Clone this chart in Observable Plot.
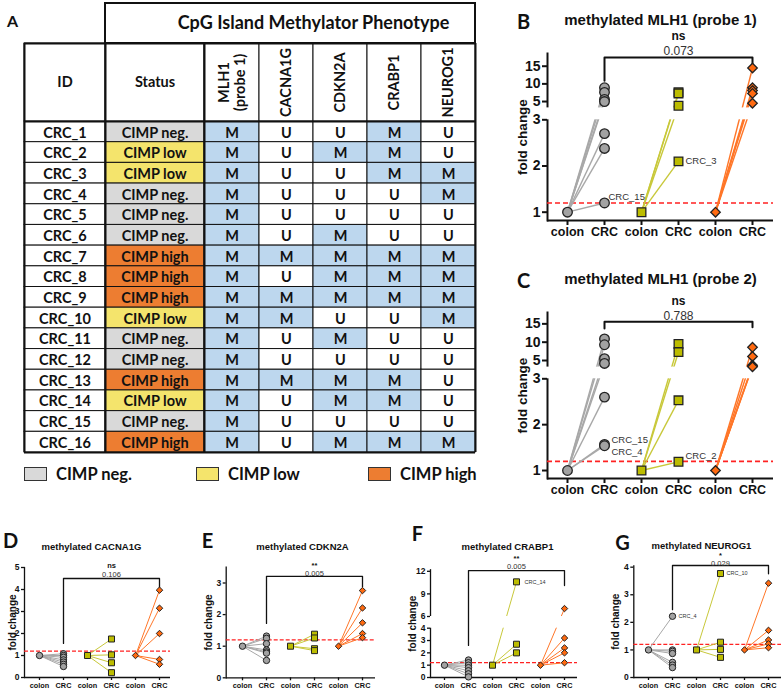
<!DOCTYPE html>
<html>
<head>
<meta charset="utf-8">
<script src="https://cdn.jsdelivr.net/npm/d3@7"></script>
<script src="https://cdn.jsdelivr.net/npm/@observablehq/plot@0.6"></script>
<style>
  body { margin: 0; background: #fff; }
  #root { position: relative; width: 783px; height: 691px; overflow: hidden; background: #fff; }
  #root > svg, #root > div { position: absolute; }
  .leg { display: flex; align-items: center; font-family: Lato, sans-serif; font-weight: bold; font-size: 16.5px; color: #111; }
  .leg span.box { display: inline-block; width: 21px; height: 12px; border: 1.5px solid #333; margin-right: 9px; }
</style>
</head>
<body>
<div id="root"></div>
<script>
// ---------------- DATA ----------------
// Table (panel A)
const ids = ["CRC_1","CRC_2","CRC_3","CRC_4","CRC_5","CRC_6","CRC_7","CRC_8","CRC_9","CRC_10","CRC_11","CRC_12","CRC_13","CRC_14","CRC_15","CRC_16"];
const status = ["CIMP neg.","CIMP low","CIMP low","CIMP neg.","CIMP neg.","CIMP neg.","CIMP high","CIMP high","CIMP high","CIMP low","CIMP neg.","CIMP neg.","CIMP high","CIMP low","CIMP neg.","CIMP high"];
const geneHeaders = ["MLH1\n(probe 1)","CACNA1G","CDKN2A","CRABP1","NEUROG1"];
const mlh1Calls    = ["M","M","M","M","M","M","M","M","M","M","M","M","M","M","M","M"];
const cacna1gCalls = ["U","U","U","U","U","U","M","U","M","M","U","U","M","U","U","U"];
const cdkn2aCalls  = ["U","M","U","U","U","M","M","M","M","U","M","U","M","M","U","M"];
const crabp1Calls  = ["M","M","M","U","U","U","M","M","M","U","U","U","M","M","U","M"];
const neurog1Calls = ["U","U","M","M","U","U","M","M","M","M","U","U","U","U","U","M"];
const tableTitle = "CpG Island Methylator Phenotype";

// Panels B-G: groups, tissues, CRC fold changes (colon reference = 1)
const groups = ["CIMP neg.","CIMP low","CIMP high"];
const tissues = ["colon","CRC"];
const colonRef = 1;
const cutoff = 1.2;

const mlh1p1Neg  = [8.9, 7.6, 5.6, 5.0, 2.7, 2.38, 1.2];
const mlh1p1Low  = [7.6, 7.3, 3.8, 2.1];
const mlh1p1High = [14.5, 8.9, 8.1, 7.3, 4.5];

const mlh1p2Neg  = [10.9, 9.3, 5.5, 4.2, 2.6, 1.57, 1.54];
const mlh1p2Low  = [9.5, 7.3, 2.53, 1.19];
const mlh1p2High = [8.6, 6.1, 3.7, 3.45, 3.3];

const cacna1gNeg  = [1.08, 1.0, 0.92, 0.8, 0.7, 0.6, 0.5];
const cacna1gLow  = [1.75, 1.03, 0.67, 0.22];
const cacna1gHigh = [3.97, 3.15, 2.0, 0.82, 0.6];

const cdkn2aNeg  = [1.32, 1.25, 1.08, 0.88, 0.82, 0.78, 0.55];
const cdkn2aLow  = [1.38, 1.26, 0.92, 0.86];
const cdkn2aHigh = [2.76, 2.21, 1.74, 1.40, 1.27];

const crabp1Neg  = [1.42, 1.2, 1.0, 0.8, 0.55, 0.3, 0.05];
const crabp1Low  = [10.6, 2.7, 2.0];
const crabp1High = [7.05, 3.2, 2.4, 2.0, 1.2];

const neurog1Neg  = [2.22, 1.0, 0.95, 0.87, 0.55, 0.45, 0.36];
const neurog1Low  = [3.77, 1.28, 1.02, 0.73];
const neurog1High = [3.42, 1.71, 1.36, 1.22, 1.08];

// ---------------- STYLE ----------------
const statusColors = {"CIMP neg.": "#d9d9d9", "CIMP low": "#f4e46c", "CIMP high": "#ed7d31"};
const callColors = {"M": "#bdd7ee", "U": "#ffffff"};
const groupStyle = {
  "CIMP neg.": {symbol: "circle",   fill: "#a2a2a2", line: "#a8a8a8"},
  "CIMP low":  {symbol: "square",   fill: "#bcbc00", line: "#c8c83a"},
  "CIMP high": {symbol: "diamond2", fill: "#ff6a10", line: "#ff7628"}
};
const root = document.getElementById("root");
function place(el, left, top) { el.style.left = left + "px"; el.style.top = top + "px"; root.appendChild(el); }

// ---------------- TABLE (A) ----------------
const geneCalls = [mlh1Calls, cacna1gCalls, cdkn2aCalls, crabp1Calls, neurog1Calls];
const headers = ["ID", "Status", ...geneHeaders];
const cells = [];
ids.forEach((id, r) => {
  cells.push({c: 0, r, kind: "ID", text: id});
  cells.push({c: 1, r, kind: status[r], text: status[r]});
  geneCalls.forEach((calls, gi) => cells.push({c: 2 + gi, r, kind: calls[r], text: calls[r]}));
});
const headerCells = headers.map((h, c) => ({c, text: h, rotate: c >= 2 ? -90 : 0}));
const nCols = headers.length, nRows = ids.length;

const table = Plot.plot({
  width: 480, height: 460, margin: 0,
  x: {type: "linear", domain: [0,1,2,3,4,5,6,7], range: [24,105,204,259,313,367,421,475], axis: null},
  y: {type: "linear", domain: [-2,-1,0,16], range: [3,43,121,452], axis: null},
  color: {domain: ["ID","CIMP neg.","CIMP low","CIMP high","M","U"],
          range: ["#ffffff", statusColors["CIMP neg."], statusColors["CIMP low"], statusColors["CIMP high"], callColors.M, callColors.U]},
  style: {fontFamily: "Lato, sans-serif", background: "transparent", overflow: "visible"},
  marks: [
    Plot.rect(cells, {x1: "c", x2: d => d.c + 1, y1: "r", y2: d => d.r + 1, fill: "kind", stroke: "#111", strokeWidth: 1}),
    Plot.rect(headerCells, {x1: "c", x2: d => d.c + 1, y1: () => -1, y2: () => 0, fill: "white", stroke: "#111", strokeWidth: 1}),
    Plot.rect([tableTitle], {x1: () => 1, x2: () => nCols, y1: () => -2, y2: () => -1, fill: "white", stroke: "#111", strokeWidth: 2}),
    Plot.ruleX([0, 1, 2, nCols], {y1: -1, y2: nRows, stroke: "#111", strokeWidth: 2}),
    Plot.ruleY([-1, 0, nRows], {x1: 0, x2: nCols, stroke: "#111", strokeWidth: 2}),
    Plot.text([tableTitle], {x: () => (1 + nCols) / 2, y: () => -1.5, text: d => d, fontSize: 18, fontWeight: "bold", fill: "#111"}),
    Plot.text(headerCells.filter(d => d.rotate === 0), {x: d => d.c + 0.5, y: () => -0.5, text: "text", fontSize: 14.5, fontWeight: "bold", fill: "#111"}),
    Plot.text(headerCells.filter(d => d.rotate !== 0), {x: d => d.c + 0.5, y: () => -0.5, text: "text", rotate: -90, lineHeight: 1.05, fontSize: 14.5, fontWeight: "bold", fill: "#111"}),
    Plot.text(cells, {x: d => d.c + 0.5, y: d => d.r + 0.55, text: "text", fontSize: 14.5, fontWeight: "bold", fill: "#111"}),
    Plot.text(["A"], {frameAnchor: "top-left", dx: 12, dy: 15, textAnchor: "middle", fontSize: 16, fontWeight: "bold", fill: "#111"})
  ]
});
place(table, 0, 0);

// legend under the table
const leg = document.createElement("div");
leg.style.width = "460px";
leg.style.height = "20px";
groups.forEach((g, i) => {
  const item = document.createElement("div");
  item.className = "leg";
  item.style.position = "absolute";
  item.style.left = [0, 172, 344][i] + "px";
  item.style.top = "0px";
  item.innerHTML = `<span class="box" style="background:${statusColors[g]}"></span>${g}`;
  leg.appendChild(item);
});
place(leg, 24, 464);

// ---------------- PANELS B-G ----------------
const big = {lw: 2, tick: 5, tickFont: 14, xFont: 12.5, titleFont: 15, sigFont: 12, pFont: 12, labFont: 9.5, ylabFont: 13.5,
             letterFont: 20, linkW: 1.4, r: {circle: 4.8, square: 4.9, diamond2: 4.3}, dotSW: 1.3, dash: "5,3", dashW: 1.6};
const small = {lw: 1.3, tick: 3, tickFont: 8.5, xFont: 7.3, titleFont: 9.5, sigFont: 7.5, pFont: 7.5, labFont: 5.5, ylabFont: 10,
             letterFont: 20, linkW: 1, r: {circle: 3.2, square: 3.4, diamond2: 2.9}, dotSW: 1, dash: "4,2", dashW: 1.3};

const key = (g, t) => g + "|" + t;
const xDomain = groups.flatMap(g => tissues.map(t => key(g, t)));

function panel(c) {
  const S = c.big ? big : small;
  const marks = [];
  marks.push(Plot.ruleY([c.yDomain[0]], {stroke: "#111", strokeWidth: S.lw}));
  marks.push(Plot.frame({anchor: "left", stroke: "#111", strokeWidth: S.lw}));
  marks.push(Plot.ruleY([cutoff], {stroke: "#ff2222", strokeWidth: S.dashW, strokeDasharray: S.dash}));
  groups.forEach((g, gi) => {
    marks.push(Plot.link(c.values[gi], {x1: () => key(g, "colon"), y1: () => colonRef, x2: () => key(g, "CRC"), y2: d => d,
      stroke: groupStyle[g].line, strokeWidth: S.linkW}));
  });
  if (c.gap) marks.push(Plot.rect([c.gap], {y1: d => d[0], y2: d => d[1], fill: "white", insetLeft: -6, insetRight: -6}));
  marks.push(Plot.axisY(c.ticks, {tickSize: S.tick, tickPadding: 2, fontSize: S.tickFont, fontWeight: "bold", strokeWidth: S.lw, label: null}));
  marks.push(Plot.axisX({tickSize: S.tick, tickPadding: 2, tickFormat: d => d.split("|")[1], fontSize: S.xFont, fontWeight: "bold", strokeWidth: S.lw, label: null}));
  // significance bracket between CIMP neg. CRC and CIMP high CRC
  const [yl, yt, yr] = c.bracket;
  const br = [
    {x: key(groups[0], "CRC"), y: yl}, {x: key(groups[0], "CRC"), y: yt},
    {x: key(groups[2], "CRC"), y: yt}, {x: key(groups[2], "CRC"), y: yr}
  ];
  marks.push(Plot.line(br, {x: "x", y: "y", stroke: "#111", strokeWidth: S.lw}));
  groups.forEach((g, gi) => {
    const st = groupStyle[g];
    const common = {symbol: st.symbol, fill: st.fill, stroke: "#222", strokeWidth: S.dotSW, r: S.r[st.symbol]};
    marks.push(Plot.dot([colonRef], {x: () => key(g, "colon"), y: d => d, ...common}));
    marks.push(Plot.dot(c.values[gi], {x: () => key(g, "CRC"), y: d => d, ...common}));
  });
  (c.labels || []).forEach(l => {
    marks.push(Plot.text([l], {x: d => key(d.g, "CRC"), y: "v", text: "text", textAnchor: "start", dx: l.dx, dy: l.dy,
      fontSize: S.labFont, fill: "#333"}));
  });
  // annotations
  marks.push(Plot.text([c.sig], {x: () => key(groups[1], "CRC"), frameAnchor: "top", dy: c.sigY - c.mT, text: d => d,
    textAnchor: "middle", fontSize: S.sigFont, fontWeight: "bold", fill: "#111"}));
  marks.push(Plot.text([c.p], {x: () => key(groups[1], "CRC"), frameAnchor: "top", dy: c.pY - c.mT, text: d => d,
    textAnchor: "middle", fontSize: S.pFont, fill: "#333"}));
  marks.push(Plot.text([c.title], {frameAnchor: "top-left", dx: c.titlePos[0] - c.mL, dy: c.titlePos[1] - c.mT, text: d => d,
    textAnchor: "middle", fontSize: S.titleFont, fontWeight: "bold", fill: "#111"}));
  marks.push(Plot.text([c.letter], {frameAnchor: "top-left", dx: c.letterPos[0] - c.mL, dy: c.letterPos[1] - c.mT, text: d => d,
    textAnchor: "middle", fontSize: S.letterFont, fontWeight: "bold", fontFamily: "Lato, sans-serif", fill: "#111"}));
  marks.push(Plot.text(["fold change"], {frameAnchor: "left", dx: c.ylabX - c.mL, rotate: -90, text: d => d,
    textAnchor: "middle", fontSize: S.ylabFont, fontWeight: "bold", fill: "#111"}));

  const svg = Plot.plot({
    width: c.width, height: c.height,
    marginLeft: c.mL, marginRight: c.mR, marginTop: c.mT, marginBottom: c.mB,
    x: {type: "point", domain: xDomain, range: c.xRange, padding: 0},
    y: {type: "linear", domain: c.yDomain, range: c.yRange},
    style: {fontFamily: "'Liberation Sans', Arial, sans-serif", background: "transparent", overflow: "visible", color: "#111"},
    marks
  });
  place(svg, c.left, c.top);
}

const panels = [
  {letter: "B", title: "methylated MLH1 (probe 1)", sig: "ns", p: "0.073", big: true,
   left: 480, top: 0, width: 303, height: 250, mL: 67, mR: 10, mT: 53, mB: 30, xRange: [86, 273],
   yDomain: [0.82, 3, 3.2, 18.6], yRange: [220, 119.3, 107.4, 53], ticks: [1, 2, 3, 5, 10, 15], gap: [3, 3.2],
   bracket: [10.9, 17.5, 14.6], values: [mlh1p1Neg, mlh1p1Low, mlh1p1High],
   letterPos: [43, 14], titlePos: [180, 14], sigY: 31, pY: 45.5, ylabX: 42,
   labels: [{g: "CIMP neg.", v: 1.2, text: "CRC_15", dx: 4, dy: -6}, {g: "CIMP low", v: 2.1, text: "CRC_3", dx: 7, dy: 0}]},
  {letter: "C", title: "methylated MLH1 (probe 2)", sig: "ns", p: "0.788", big: true,
   left: 480, top: 260, width: 303, height: 240, mL: 67, mR: 10, mT: 52, mB: 22, xRange: [86, 273],
   yDomain: [0.826, 3, 3.2, 18.1], yRange: [218, 118.3, 106.6, 52], ticks: [1, 2, 3, 5, 10, 15], gap: [3, 3.2],
   bracket: [13.7, 15.6, 14.1], values: [mlh1p2Neg, mlh1p2Low, mlh1p2High],
   letterPos: [43, 13], titlePos: [180, 13], sigY: 36, pY: 50.5, ylabX: 42,
   labels: [{g: "CIMP neg.", v: 1.57, text: "CRC_15", dx: 7, dy: -4}, {g: "CIMP neg.", v: 1.54, text: "CRC_4", dx: 7, dy: 6},
            {g: "CIMP low", v: 1.19, text: "CRC_2", dx: 7, dy: -6}]},
  {letter: "D", title: "methylated CACNA1G", sig: "ns", p: "0.106",
   left: 0, top: 500, width: 195, height: 191, mL: 24, mR: 25, mT: 67, mB: 14, xRange: [37.3, 160.7],
   yDomain: [0, 5], yRange: [177, 67], ticks: [0, 1, 2, 3, 4, 5],
   bracket: [1.55, 4.5, 4.09], values: [cacna1gNeg, cacna1gLow, cacna1gHigh],
   letterPos: [10, 33], titlePos: [91, 43], sigY: 62, pY: 71, ylabX: 12},
  {letter: "E", title: "methylated CDKN2A", sig: "**", p: "0.005",
   left: 195, top: 500, width: 195, height: 191, mL: 30.7, mR: 15, mT: 66.7, mB: 13.7, xRange: [45, 168.3],
   yDomain: [0, 3.5], yRange: [177.3, 66.7], ticks: [0, 1, 2, 3],
   bracket: [1.72, 3.21, 2.87], values: [cdkn2aNeg, cdkn2aLow, cdkn2aHigh],
   letterPos: [12, 33], titlePos: [107, 43], sigY: 62, pY: 70.5, ylabX: 13},
  {letter: "F", title: "methylated CRABP1", sig: "**", p: "0.005",
   left: 390, top: 500, width: 195, height: 191, mL: 40, mR: 8, mT: 69.3, mB: 14, xRange: [53.3, 175.7],
   yDomain: [0, 4, 6, 12.2], yRange: [177, 127.7, 116, 69.3], ticks: [0, 1, 2, 3, 4, 6, 9, 12], gap: [4, 6],
   bracket: [2.6, 12.1, 10.1], values: [crabp1Neg, crabp1Low, crabp1High],
   letterPos: [27, 26], titlePos: [117, 43], sigY: 55, pY: 63.5, ylabX: 22,
   labels: [{g: "CIMP low", v: 10.6, text: "CRC_14", dx: 8, dy: 0}]},
  {letter: "G", title: "methylated NEUROG1", sig: "*", p: "0.029",
   left: 585, top: 500, width: 198, height: 191, mL: 48.3, mR: 2, mT: 65.3, mB: 14, xRange: [61.7, 185],
   yDomain: [0, 4.05], yRange: [177, 65.3], ticks: [0, 1, 2, 3, 4],
   bracket: [2.46, 4.06, 3.76], values: [neurog1Neg, neurog1Low, neurog1High],
   letterPos: [37, 35], titlePos: [116, 42], sigY: 52, pY: 60.5, ylabX: 30,
   labels: [{g: "CIMP neg.", v: 2.22, text: "CRC_4", dx: 6, dy: 0}, {g: "CIMP low", v: 3.77, text: "CRC_10", dx: 6, dy: 0}]}
];
panels.forEach(panel);
</script>
</body>
</html>
